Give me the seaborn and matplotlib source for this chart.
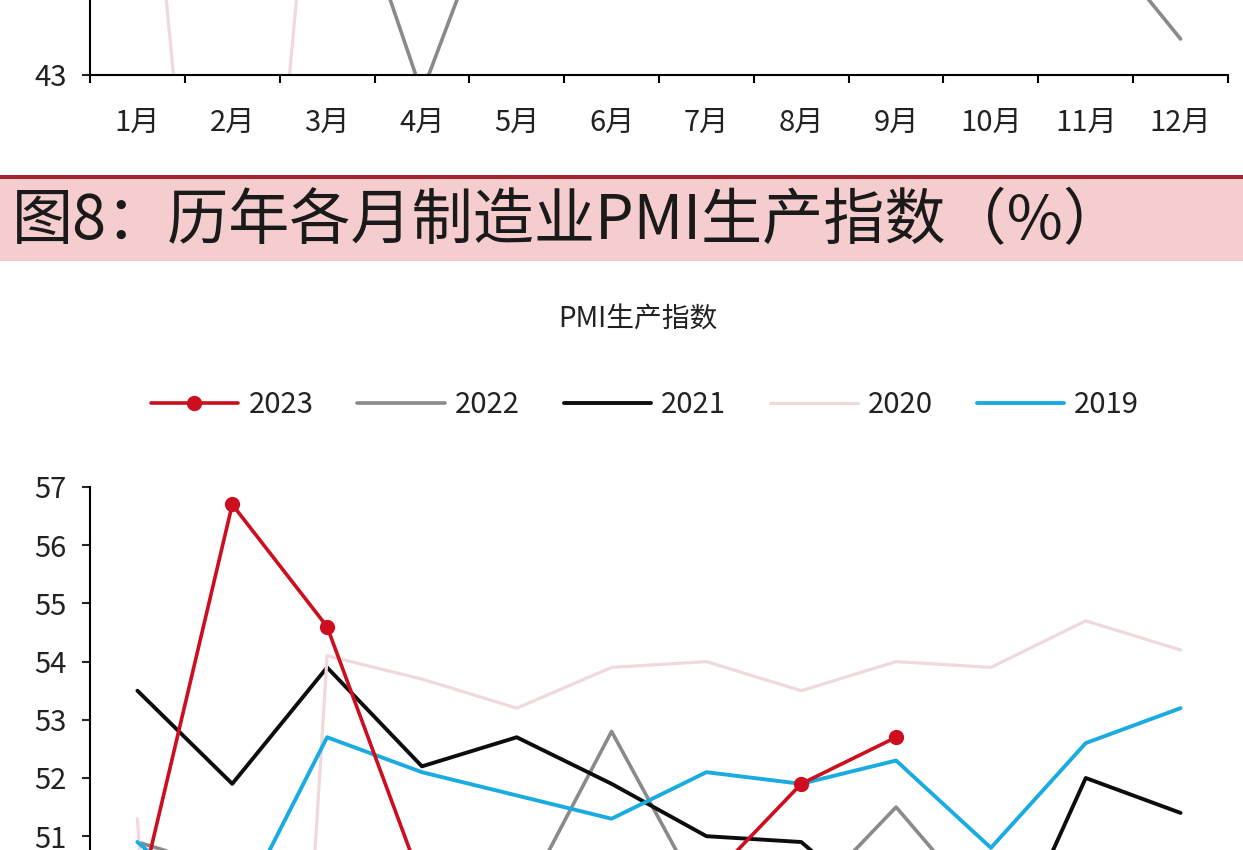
import numpy as np
import pandas as pd
import matplotlib
matplotlib.use("Agg")
import matplotlib.pyplot as plt
import seaborn as sns
from matplotlib.patches import Rectangle

# ---------------- data ----------------
months = ["1月", "2月", "3月", "4月", "5月", "6月", "7月", "8月", "9月", "10月", "11月", "12月"]
years = ["2023", "2022", "2021", "2020", "2019"]

# previous figure (only its lowest strip is visible at the top of the page)
prev_2022 = [49.3, 50.7, 48.8, 42.6, 48.2, 50.4, 48.5, 49.2, 49.8, 48.1, 46.4, 43.8]
prev_2020 = [51.4, 29.3, 52.0, 50.2, 50.9, 51.4, 51.7, 52.0, 52.8, 52.8, 53.9, 53.6]

# 图8: PMI 生产指数
prod_2023 = [49.8, 56.7, 54.6, 50.2, 49.6, 50.3, 50.2, 51.9, 52.7]
prod_2022 = [50.9, 50.4, 49.5, 44.4, 49.7, 52.8, 49.8, 49.8, 51.5, 49.6, 47.8, 44.6]
prod_2021 = [53.5, 51.9, 53.9, 52.2, 52.7, 51.9, 51.0, 50.9, 49.5, 48.4, 52.0, 51.4]
prod_2020 = [51.3, 27.8, 54.1, 53.7, 53.2, 53.9, 54.0, 53.5, 54.0, 53.9, 54.7, 54.2]
prod_2019 = [50.9, 49.5, 52.7, 52.1, 51.7, 51.3, 52.1, 51.9, 52.3, 50.8, 52.6, 53.2]

prod_yticks = [51, 52, 53, 54, 55, 56, 57]

banner_title = "图8：历年各月制造业PMI生产指数（%）"
chart_title = "PMI生产指数"

# ---------------- style ----------------
sns.set_theme(style="ticks")
plt.rcParams["font.family"] = ["Noto Sans CJK SC", "DejaVu Sans"]
plt.rcParams["axes.unicode_minus"] = False

colors = {"2023": "#CC0E1E", "2022": "#8A8A8A", "2021": "#0D0D0D",
          "2020": "#F0D9DB", "2019": "#1AACE0"}
widths = {"2023": 2.6, "2022": 2.6, "2021": 2.8, "2020": 2.3, "2019": 2.8}

W, H = 1243, 850
fig = plt.figure(figsize=(W / 100, H / 100), dpi=100)
fig.patch.set_facecolor("white")

def fx(px):
    return px / W

def fy(py):
    return 1 - py / H

ax_left, ax_right = 90, 1228
txt_color = "#222222"

# ---------------- top strip: previous chart ----------------
top_axis_y = 75
ax_top = fig.add_axes([fx(ax_left), fy(top_axis_y), fx(ax_right - ax_left), top_axis_y / H])
x_idx = np.arange(12)
sns.lineplot(x=x_idx, y=prev_2020, ax=ax_top, color=colors["2020"], linewidth=2.3, estimator=None, sort=False)
sns.lineplot(x=x_idx, y=prev_2022, ax=ax_top, color=colors["2022"], linewidth=2.6, estimator=None, sort=False)
ax_top.set_xlim(-0.5, 11.5)
ax_top.set_ylim(43, 43 + top_axis_y / 45.0)
ax_top.set_yticks([43])
ax_top.set_yticklabels(["43"])
ax_top.set_xticks(x_idx)
ax_top.set_xticklabels(months)
ax_top.set_xticks(np.arange(-0.5, 12, 1), minor=True)
ax_top.tick_params(axis="x", which="major", length=0, pad=24, labelsize=21, labelcolor=txt_color)
ax_top.tick_params(axis="x", which="minor", length=6, width=1.5, direction="out", color="black")
ax_top.tick_params(axis="y", length=6, width=1.5, direction="out", pad=11, labelsize=21, labelcolor=txt_color)
for s in ["top", "right"]:
    ax_top.spines[s].set_visible(False)
for s in ["left", "bottom"]:
    ax_top.spines[s].set_linewidth(1.5)
    ax_top.spines[s].set_color("black")
ax_top.set_xlabel("")
ax_top.set_ylabel("")
ax_top.patch.set_alpha(0)

# ---------------- banner ----------------
fig.patches.append(Rectangle((0, fy(261)), 1, (261 - 179) / H, transform=fig.transFigure,
                             facecolor="#F6CDCE", edgecolor="none", zorder=0))
fig.patches.append(Rectangle((0, fy(179)), 1, 4 / H, transform=fig.transFigure,
                             facecolor="#A3262C", edgecolor="none", zorder=1))
fig.text(fx(12), fy(222), banner_title, fontsize=44, color="#1A1A1A", ha="left", va="center")

# ---------------- main chart ----------------
fig.text(fx(638), fy(320), chart_title, fontsize=20, color=txt_color, ha="center", va="center")

top_px = 487
px_per_unit = 58.2
ax = fig.add_axes([fx(ax_left), 0, fx(ax_right - ax_left), (H - top_px) / H])
series = {"2023": prod_2023, "2022": prod_2022, "2021": prod_2021, "2020": prod_2020, "2019": prod_2019}
for yr in years:
    vals = series[yr]
    xs = np.arange(len(vals))
    kw = dict(marker="o", markersize=11, markeredgewidth=0) if yr == "2023" else {}
    sns.lineplot(x=xs, y=vals, ax=ax, color=colors[yr], linewidth=widths[yr], label=yr,
                 estimator=None, sort=False, zorder=5 if yr == "2023" else 3, **kw)

ax.set_xlim(-0.5, 11.5)
ax.set_ylim(57 - (H - top_px) / px_per_unit, 57)
ax.set_yticks(prod_yticks)
ax.set_yticklabels([str(v) for v in prod_yticks])
ax.set_xticks([])
ax.tick_params(axis="y", length=6, width=1.5, direction="out", pad=11, labelsize=21, labelcolor=txt_color)
for s in ["top", "right", "bottom"]:
    ax.spines[s].set_visible(False)
ax.spines["left"].set_linewidth(1.5)
ax.spines["left"].set_color("black")
ax.set_xlabel("")
ax.set_ylabel("")
ax.patch.set_alpha(0)

handles, labels = ax.get_legend_handles_labels()
if ax.get_legend() is not None:
    ax.get_legend().remove()
fig.legend(handles, labels, loc="center", bbox_to_anchor=(fx(645), fy(405)), ncol=5,
           frameon=False, fontsize=21, handlelength=3.0, handletextpad=0.35,
           columnspacing=1.5, labelcolor=txt_color)

fig.savefig("out.png", dpi=100, facecolor="white")
